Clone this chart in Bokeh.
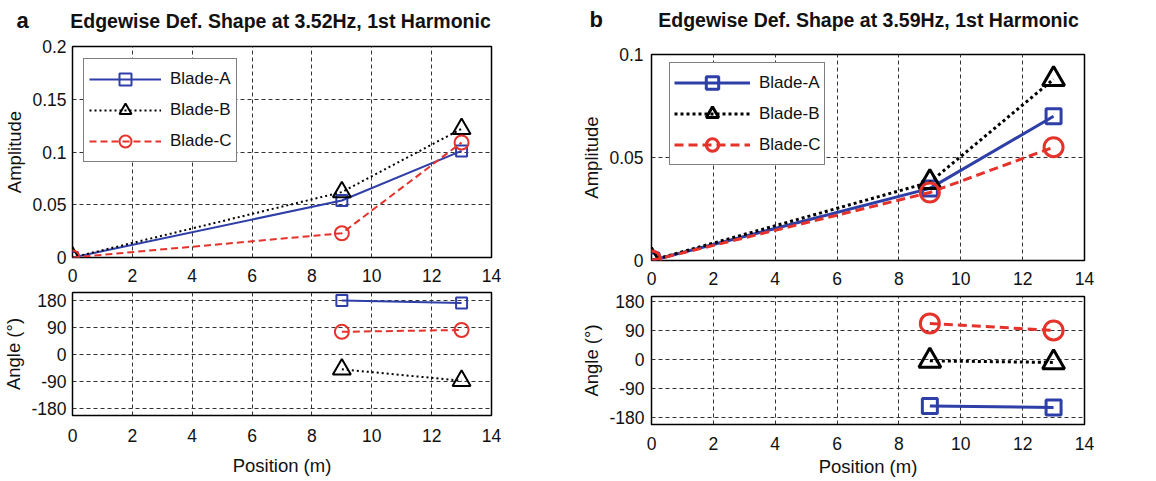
from bokeh.plotting import figure
from bokeh.layouts import row, column
from bokeh.models import FixedTicker, Legend, LegendItem, Label, Range1d
from bokeh.embed import file_html
from bokeh.resources import INLINE

FONT = "Liberation Sans"

# ---------------- data ----------------
positions = [0, 9, 13]
angle_positions = [9, 13]
series_names = ["Blade-A", "Blade-B", "Blade-C"]

a_amp_A = [0.0, 0.054, 0.101]
a_amp_B = [0.0, 0.062, 0.122]
a_amp_C = [0.0, 0.023, 0.109]
a_ang_A = [178, 170]
a_ang_B = [-51, -89]
a_ang_C = [74, 80]

b_amp_A = [0.0, 0.035, 0.070]
b_amp_B = [0.0, 0.038, 0.088]
b_amp_C = [0.0, 0.033, 0.055]
b_ang_A = [-145, -150]
b_ang_B = [-4, -9]
b_ang_C = [113, 91]

x_ticks = [0, 2, 4, 6, 8, 10, 12, 14]
amp_ticks_a = [0, 0.05, 0.1, 0.15, 0.2]
amp_labels_a = ["0", "0.05", "0.1", "0.15", "0.2"]
amp_ticks_b = [0, 0.05, 0.1]
amp_labels_b = ["0", "0.05", "0.1"]
angle_ticks = [-180, -90, 0, 90, 180]
angle_labels = ["-180", "-90", "0", "90", "180"]

title_a = "Edgewise Def. Shape at 3.52Hz, 1st Harmonic"
title_b = "Edgewise Def. Shape at 3.59Hz, 1st Harmonic"
letter_a = "a"
letter_b = "b"

# ---------------- styles ----------------
COLORS = ["#2f3fa8", "black", "#e5322b"]
MARKERS = ["square", "triangle", "circle"]
HEADER_H = 36


def base_fig(width, height, yr, borders, yticks, ylabels, ylabel, xlabel=None,
             label_standoff=6, x_standoff=11, xlabel_standoff=2):
    p = figure(width=width, height=height, x_range=Range1d(0, 14), y_range=Range1d(*yr),
               output_backend="svg", toolbar_location=None,
               min_border_left=borders[0], min_border_right=borders[1],
               min_border_top=borders[2], min_border_bottom=borders[3])
    p.background_fill_color = "white"
    p.border_fill_color = "white"
    p.outline_line_color = "black"
    p.outline_line_width = 1.5
    p.outline_line_alpha = 1.0
    p.xaxis.ticker = FixedTicker(ticks=x_ticks)
    p.yaxis.ticker = FixedTicker(ticks=yticks)
    p.yaxis.major_label_overrides = {t: l for t, l in zip(yticks, ylabels)}
    for ax in (p.xaxis[0], p.yaxis[0]):
        ax.axis_line_color = None
        ax.major_tick_line_color = None
        ax.minor_tick_line_color = None
        ax.major_tick_out = 0
        ax.major_tick_in = 0
        ax.major_label_text_font = FONT
        ax.major_label_text_font_size = "17.5px"
        ax.major_label_text_color = "#111111"
        ax.axis_label_text_font = FONT
        ax.axis_label_text_font_size = "18.5px"
        ax.axis_label_text_font_style = "normal"
        ax.axis_label_text_color = "#111111"
    p.yaxis.major_label_standoff = label_standoff
    p.xaxis.major_label_standoff = x_standoff
    p.yaxis.axis_label = ylabel
    p.yaxis.axis_label_standoff = 4
    if xlabel:
        p.xaxis.axis_label = xlabel
        p.xaxis.axis_label_standoff = xlabel_standoff
    for g in (p.xgrid[0], p.ygrid[0]):
        g.grid_line_color = "#333333"
        g.grid_line_dash = "4 3"
        g.grid_line_width = 1
    return p


def draw(p, xs, ys_list, lw, sizes, dashes):
    items = []
    for name, ys, col, mk, sz, dsh in zip(series_names, ys_list, COLORS, MARKERS, sizes, dashes):
        r1 = p.line(xs, ys, line_color=col, line_width=lw, line_dash=dsh)
        r2 = p.scatter(xs, ys, marker=mk, size=sz, line_color=col, fill_color=None,
                       line_width=lw)
        items.append(LegendItem(label=name, renderers=[r1, r2]))
    return items


def add_legend(p, items, loc, glyph_h, glyph_w, spacing, padding):
    leg = Legend(items=items, location=loc, glyph_height=glyph_h, glyph_width=glyph_w,
                 spacing=spacing, padding=padding, margin=0, label_standoff=9,
                 label_text_font=FONT, label_text_font_size="17px",
                 label_text_color="#111111", label_height=20,
                 border_line_color="black", border_line_width=1.2,
                 background_fill_color="white", background_fill_alpha=1.0)
    p.add_layout(leg, "center")


# ---------------- header (titles + panel letters) ----------------
header = figure(width=1156, height=HEADER_H, x_axis_type=None, y_axis_type=None,
                output_backend="svg", toolbar_location=None, min_border=0,
                x_range=Range1d(0, 1156), y_range=Range1d(0, HEADER_H))
header.outline_line_color = None
header.background_fill_color = "white"
header.border_fill_color = "white"
header.grid.visible = False


def header_text(text, x, y, size, align):
    header.add_layout(Label(text=text, x=x, y=y, x_units="screen",
                            y_units="screen", text_font=FONT, text_font_size=size,
                            text_font_style="bold", text_color="#111111",
                            text_align=align, text_baseline="alphabetic"))


header_text(letter_a, 16, 16, "22px", "left")
header_text(title_a, 280, 16, "19.5px", "center")
header_text(letter_b, 589, 17, "22px", "left")
header_text(title_b, 868, 17, "19.5px", "center")

# ---------------- panel a ----------------
pa1 = base_fig(576, 290 - HEADER_H, (0, 0.2), (72, 85, 46 - HEADER_H, 33),
               amp_ticks_a, amp_labels_a, "Amplitude")
items_a = draw(pa1, positions, [a_amp_A, a_amp_B, a_amp_C], 2, [11, 18, 14],
               ["solid", "2 3", "7 4"])
add_legend(pa1, items_a, (11, 95), 30, 72, 1, 5)

pa2 = base_fig(576, 191, (-205, 205), (72, 85, 2, 66), angle_ticks, angle_labels,
               "Angle (°)", "Position (m)", x_standoff=13, xlabel_standoff=10)
draw(pa2, angle_positions, [a_ang_A, a_ang_B, a_ang_C], 2, [11, 18, 14],
     ["solid", "2 3", "7 4"])

# ---------------- panel b ----------------
pb1 = base_fig(580, 292 - HEADER_H, (0, 0.1), (75, 72, 54 - HEADER_H, 32),
               amp_ticks_b, amp_labels_b, "Amplitude", label_standoff=8)
items_b = draw(pb1, positions, [b_amp_A, b_amp_B, b_amp_C], 3, [15, 22, 19],
               ["solid", "3 3", "9 5"])
add_legend(pb1, items_b, (18, 95), 31, 76, 0, 4)

pb2 = base_fig(580, 189, (-203, 197), (75, 72, 4, 57), angle_ticks, angle_labels,
               "Angle (°)", "Position (m)", label_standoff=7, x_standoff=12, xlabel_standoff=3)
draw(pb2, angle_positions, [b_ang_A, b_ang_B, b_ang_C], 3, [15, 22, 19],
     ["solid", "3 3", "9 5"])

layout = column(header, row(column(pa1, pa2), column(pb1, pb2)))

open("out.html", "w").write(file_html(layout, INLINE))
